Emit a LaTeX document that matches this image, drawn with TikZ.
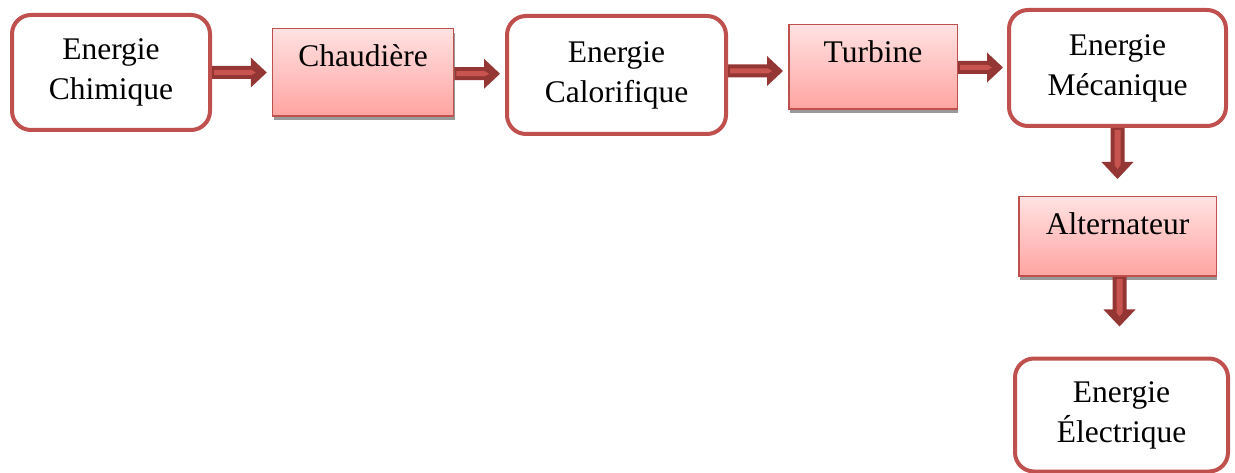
\documentclass[tikz,border=0pt]{standalone}
\usepackage{fontspec}
\setmainfont{Liberation Serif}
\usetikzlibrary{calc,shadows}

\definecolor{boxred}{RGB}{192,80,77}
\definecolor{arrowdark}{RGB}{148,54,52}
\definecolor{arrowlight}{RGB}{200,84,80}
\definecolor{pinktop}{RGB}{255,226,226}
\definecolor{pinkbot}{RGB}{255,164,161}

\tikzset{
  every node/.style={font=\fontsize{31.5}{40}\selectfont},
  % energy forms: white rounded boxes with a heavy red outline
  energy/.style={draw=boxred, line width=4pt, rounded corners=19pt, fill=white,
    align=center, inner sep=0pt},
  % conversion stages: shaded rectangles with the label near the top
  stage/.style={draw=boxred, line width=1.5pt, top color=pinktop, bottom color=pinkbot,
    inner sep=0pt, anchor=base,
    drop shadow={shadow xshift=1pt, shadow yshift=-4pt, fill=black!40, opacity=1}},
  % horizontal block arrow; the argument is the gap left before the target
  harrow/.style={to path={
    let \p1=(\tikztostart.east), \p2=(\tikztotarget.west), \p3=($(\p1)!0.5!(\p2)$) in
    (\x1,{\y3+6.5pt}) -- ({\x2-#1-16pt},{\y3+6.5pt}) -- ({\x2-#1-16pt},{\y3+15pt})
    -- ({\x2-#1},\y3) -- ({\x2-#1-16pt},{\y3-15pt}) -- ({\x2-#1-16pt},{\y3-6.5pt})
    -- (\x1,{\y3-6.5pt}) -- cycle}},
  hstripe/.style={to path={
    let \p1=(\tikztostart.east), \p2=(\tikztotarget.west), \p3=($(\p1)!0.5!(\p2)$) in
    ({\x1+2pt},{\y3+2.5pt}) -- ({\x2-#1-15pt},{\y3+2.5pt}) -- ({\x2-#1-11pt},\y3)
    -- ({\x2-#1-15pt},{\y3-2.5pt}) -- ({\x1+2pt},{\y3-2.5pt}) -- cycle}},
  % vertical block arrow, pointing down
  varrow/.style={to path={
    let \p1=(\tikztostart.south), \p2=(\tikztotarget.north), \p3=($(\p1)!0.5!(\p2)$) in
    ({\x3-7pt},\y1) -- ({\x3-7pt},{\y2+#1+17pt}) -- ({\x3-16pt},{\y2+#1+17pt})
    -- (\x3,{\y2+#1}) -- ({\x3+16pt},{\y2+#1+17pt}) -- ({\x3+7pt},{\y2+#1+17pt})
    -- ({\x3+7pt},\y1) -- cycle}},
  vstripe/.style={to path={
    let \p1=(\tikztostart.south), \p2=(\tikztotarget.north), \p3=($(\p1)!0.5!(\p2)$) in
    ({\x3-3pt},{\y1-2pt}) -- ({\x3-3pt},{\y2+#1+14pt}) -- (\x3,{\y2+#1+10pt})
    -- ({\x3+3pt},{\y2+#1+14pt}) -- ({\x3+3pt},{\y1-2pt}) -- cycle}},
}

\begin{document}
\begin{tikzpicture}[x=1pt, y=-1pt]
  \useasboundingbox (0,0) rectangle (1235,473);

  % energy forms
  \node[energy, minimum width=198, minimum height=115] (chim) at (111,72.5) {Energie\\Chimique};
  \node[energy, minimum width=219, minimum height=118] (calo) at (616.5,75) {Energie\\Calorifique};
  \node[energy, minimum width=217, minimum height=116] (meca) at (1117.5,68) {Energie\\Mécanique};
  \node[energy, minimum width=213, minimum height=113] (elec) at (1121.5,415) {Energie\\Électrique};

  % conversion stages
  \node[stage, minimum width=181, text height=38.25, text depth=49.25] (chaud) at (363,67) {Chaudière};
  \node[stage, minimum width=168.5, text height=38.25, text depth=46.25] (turb) at (873,63) {Turbine};
  \node[stage, minimum width=197.5, text height=38.25, text depth=41.25] (alt) at (1117.5,235) {Alternateur};

  % flow arrows
  \fill[arrowdark] (chim) to[harrow=5pt] (chaud);
  \fill[arrowlight] (chim) to[hstripe=5pt] (chaud);
  \fill[arrowdark] (chaud) to[harrow=5pt] (calo);
  \fill[arrowlight] (chaud) to[hstripe=5pt] (calo);
  \fill[arrowdark] (calo) to[harrow=5pt] (turb);
  \fill[arrowlight] (calo) to[hstripe=5pt] (turb);
  \fill[arrowdark] (turb) to[harrow=4pt] (meca);
  \fill[arrowlight] (turb) to[hstripe=4pt] (meca);
  \fill[arrowdark] (meca) to[varrow=17pt] (alt);
  \fill[arrowlight] (meca) to[vstripe=17pt] (alt);
  \fill[arrowdark] (alt) to[varrow=30pt] (elec);
  \fill[arrowlight] (alt) to[vstripe=30pt] (elec);
\end{tikzpicture}
\end{document}
